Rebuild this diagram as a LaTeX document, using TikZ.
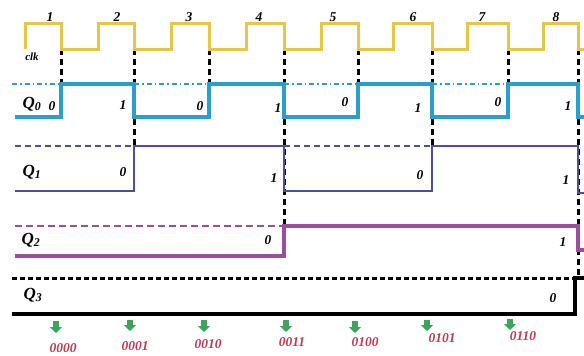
\documentclass[tikz,border=0pt]{standalone}
\usepackage{fontspec}
\setmainfont{Liberation Serif}
\usetikzlibrary{arrows.meta}
\definecolor{clkc}{RGB}{232,197,71}
\definecolor{qzero}{RGB}{42,159,201}
\definecolor{qone}{RGB}{75,79,163}
\definecolor{qtwo}{RGB}{154,78,158}
\definecolor{arrg}{RGB}{59,165,92}
\definecolor{bitc}{RGB}{192,58,80}
\tikzset{
  lvl/.style={font=\bfseries\itshape\fontsize{13.5}{13.5}\selectfont, inner sep=0pt},
  num/.style={font=\bfseries\itshape\fontsize{13.5}{13.5}\selectfont, inner sep=0pt},
  qlab/.style={font=\bfseries\itshape\fontsize{17}{17}\selectfont, inner sep=0pt},
  bits/.style={font=\bfseries\itshape\fontsize{13.5}{13.5}\selectfont, text=bitc, inner sep=0pt},
  edgeline/.style={black, line width=3pt, dash pattern=on 6pt off 4pt},
  garrow/.style={arrg, line width=5.5pt, -{Triangle[width=12pt,length=6pt]}},
}
\begin{document}
\begin{tikzpicture}[x=1pt,y=-1pt]
\useasboundingbox (0,0) rectangle (584,356);
% edge guide lines (behind)
\foreach \x in {61,209,358,508}{\draw[edgeline] (\x,49) -- (\x,84);}
\foreach \x in {134,432}{\draw[edgeline] (\x,49) -- (\x,146);}
\draw[edgeline] (284,49) -- (284,226);
\draw[edgeline] (578,49) -- (578,278);
% clock
\draw[clkc, line width=3pt]
 (25,49) -- (25,23) -- (61,23) -- (61,49) -- (98,49) -- (98,23) -- (134,23) -- (134,49)
 -- (171,49) -- (171,23) -- (209,23) -- (209,49) -- (246,49) -- (246,23) -- (284,23) -- (284,49)
 -- (321,49) -- (321,23) -- (358,23) -- (358,49) -- (393,49) -- (393,23) -- (432,23) -- (432,49)
 -- (467,49) -- (467,23) -- (508,23) -- (508,49) -- (543,49) -- (543,23) -- (578,23) -- (578,49) -- (584,49);
\node[font=\bfseries\itshape\fontsize{11}{11}\selectfont, inner sep=0pt] (clk) at (32,57) {clk};
\foreach \x/\n in {50/1,117/2,189/3,259/4,333/5,413/6,482/7,556/8}{
  \node[num] (n\n) at (\x,17) {\n};}
% Q0
\draw[qzero, line width=1.3pt, dash pattern=on 5pt off 3pt on 1.5pt off 3pt]
  (12,84) -- (61,84) (134,84) -- (209,84) (284,84) -- (358,84) (432,84) -- (508,84);
\draw[qzero, line width=3.6pt]
 (15,117) -- (61,117) -- (61,84) -- (134,84) -- (134,117) -- (209,117) -- (209,84) -- (284,84)
 -- (284,117) -- (358,117) -- (358,84) -- (432,84) -- (432,117) -- (508,117) -- (508,84) -- (578,84) -- (578,117) -- (584,117);
\node[qlab] (q0) at (32,104) {Q\textsubscript{0}};
\foreach \x/\y/\v [count=\i] in {52/106/0,123/105/1,200/106/0,278/108/1,345/102/0,418/108/1,498/102/0,568/106/1}{
  \node[lvl] (a\i) at (\x,\y) {\v};}
% Q1
\draw[qone, line width=1.6pt, dash pattern=on 6pt off 4pt]
  (15,146) -- (134,146) (284,146) -- (432,146);
\draw[qone, line width=2.8pt]
 (15,191) -- (134,191) -- (134,146) -- (284,146) -- (284,191) -- (432,191) -- (432,146) -- (578,146) -- (578,193) -- (584,193);
\node[qlab] (q1) at (32,172) {Q\textsubscript{1}};
\foreach \x/\y/\v [count=\i] in {123/172/0,274/178/1,420/175/0,566/180/1}{
  \node[lvl] (b\i) at (\x,\y) {\v};}
% Q2
\draw[qtwo, line width=1.6pt, dash pattern=on 7pt off 4pt]
  (15,226) -- (284,226);
\draw[qtwo, line width=3.2pt]
 (15,256) -- (284,256) -- (284,226) -- (578,226) -- (578,250) -- (584,250);
\node[qlab] (q2) at (31,240) {Q\textsubscript{2}};
\node[lvl] (c1) at (268,240) {0};
\node[lvl] (c2) at (563,242) {1};
% Q3
\draw[black, line width=3pt, dash pattern=on 5pt off 3pt]
  (12,278) -- (575,278);
\draw[black, line width=3.4pt]
 (12,314) -- (575,314) -- (575,278) -- (584,278);
\node[qlab] (q3) at (33,295) {Q\textsubscript{3}};
\node[lvl] (d1) at (553,298) {0};
% state arrows and codes
\foreach \x/\t/\b [count=\i] in {56/321/333,130/320/331,204/320/332,286/320/332,355/321/333,427/320/331,510/319/330}{
  \coordinate (s\i) at (\x,\t);
  \coordinate (e\i) at (\x,\b);
  \draw[garrow] (s\i) -- (e\i);}
\foreach \x/\y/\t [count=\i] in {63/348/0000,135/346/0001,208/344/0010,292/342/0011,365/342/0100,442/338/0101,523/336/0110}{
  \node[bits] (k\i) at (\x,\y) {\t};}
\end{tikzpicture}
\end{document}
